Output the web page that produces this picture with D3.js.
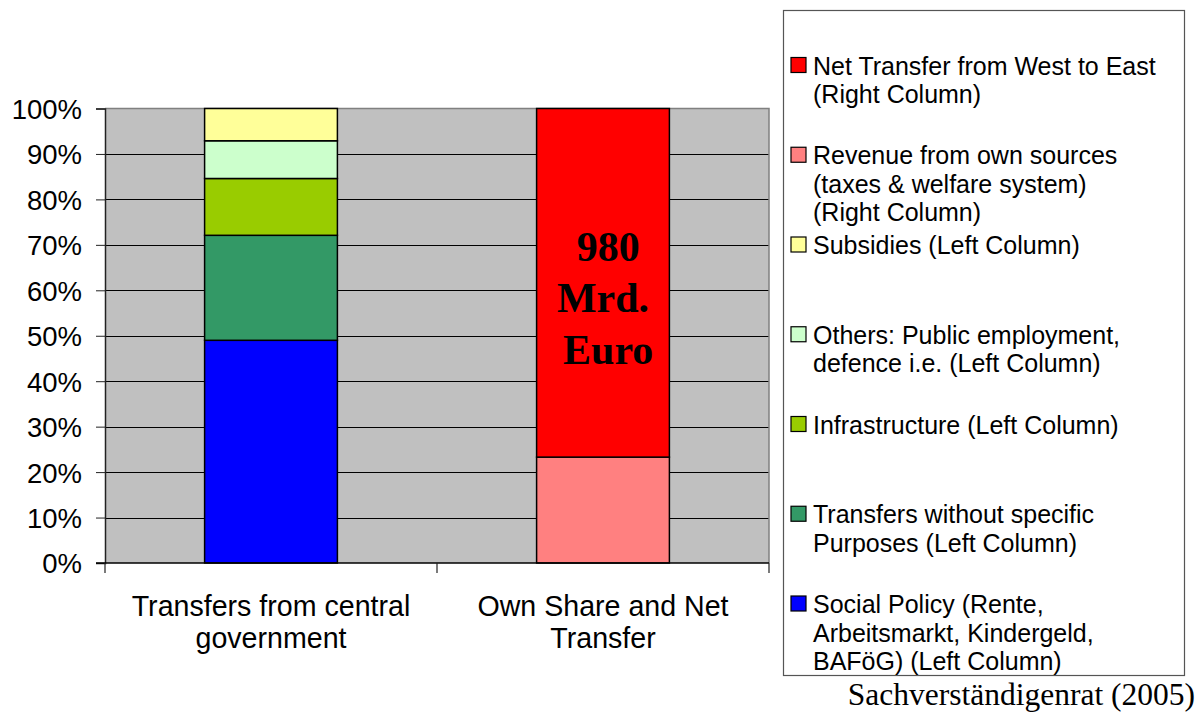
<!DOCTYPE html>
<html>
<head>
<meta charset="utf-8">
<script src="https://cdn.jsdelivr.net/npm/d3@7"></script>
<style>
  html, body { margin: 0; padding: 0; background: #fff; }
  svg { display: block; }
</style>
</head>
<body>
<svg id="chart" width="1204" height="713"></svg>
<script>
// Column categories (two-line tick labels)
const categories = ["central", "own"];
const categoryLabels = [
  ["Transfers from central", "government"],
  ["Own Share and Net", "Transfer"]
];

// Left column: transfers from central government, share in %
const leftKeys = ["social", "noPurpose", "infra", "others", "subsidies"];
const leftValues = [49.0, 23.1, 12.5, 8.3, 7.1];
const leftColors = ["#0000FF", "#339966", "#99CC00", "#CCFFCC", "#FFFF99"];

// Right column: own revenue and net transfer, share in %
const rightKeys = ["revenue", "netTransfer"];
const rightValues = [23.3, 76.7];
const rightColors = ["#FF8080", "#FF0000"];

// Annotation inside the net-transfer segment
const netLabel = [" 980", "Mrd.", " Euro"];

// Y axis ticks
const yTicks = [0, 10, 20, 30, 40, 50, 60, 70, 80, 90, 100];

// Legend entries, top to bottom
const legendColors = ["#FF0000", "#FF8080", "#FFFF99", "#CCFFCC", "#99CC00", "#339966", "#0000FF"];
const legendLabels = [
  ["Net Transfer from West to East", "(Right Column)"],
  ["Revenue from own sources", "(taxes & welfare system)", "(Right Column)"],
  ["Subsidies (Left Column)"],
  ["Others: Public employment,", "defence i.e. (Left Column)"],
  ["Infrastructure (Left Column)"],
  ["Transfers without specific", "Purposes (Left Column)"],
  ["Social Policy (Rente,", "Arbeitsmarkt, Kindergeld,", "BAFöG) (Left Column)"]
];

const sourceNote = "Sachverständigenrat (2005)";

const SANS = "'Liberation Sans', Arial, sans-serif";
const SERIF = "'Liberation Serif', 'Times New Roman', serif";

const svg = d3.select("#chart");

const plot = { left: 105, right: 769, top: 108.5, bottom: 563 };

const x = d3.scaleBand()
  .domain(categories)
  .range([plot.left, plot.right])
  .paddingInner(0.6)
  .paddingOuter(0.3);

const y = d3.scaleLinear()
  .domain([0, 100])
  .range([plot.bottom, plot.top]);

// Plot background
svg.append("rect")
  .attr("x", plot.left).attr("y", plot.top)
  .attr("width", plot.right - plot.left)
  .attr("height", plot.bottom - plot.top)
  .attr("fill", "#C0C0C0");

// Horizontal gridlines
svg.append("g")
  .selectAll("line")
  .data(yTicks.filter(t => t > 0 && t < 100))
  .join("line")
  .attr("x1", plot.left).attr("x2", plot.right)
  .attr("y1", d => Math.round(y(d)) + 0.5)
  .attr("y2", d => Math.round(y(d)) + 0.5)
  .attr("stroke", "#000")
  .attr("stroke-width", 1);

// Plot border (top and right)
svg.append("path")
  .attr("d", `M${plot.left},${plot.top}H${plot.right}V${plot.bottom}`)
  .attr("fill", "none")
  .attr("stroke", "#808080")
  .attr("stroke-width", 1.5);

// Stacked segments
function stackColumn(cat, values, colors) {
  let acc = 0;
  return values.map((v, i) => {
    const seg = { cat, y0: acc, y1: acc + v, color: colors[i] };
    acc += v;
    return seg;
  });
}
const segments = stackColumn(categories[0], leftValues, leftColors)
  .concat(stackColumn(categories[1], rightValues, rightColors));

svg.append("g")
  .selectAll("rect")
  .data(segments)
  .join("rect")
  .attr("x", d => x(d.cat))
  .attr("width", x.bandwidth())
  .attr("y", d => y(d.y1))
  .attr("height", d => y(d.y0) - y(d.y1))
  .attr("fill", d => d.color)
  .attr("stroke", "#000")
  .attr("stroke-width", 1.5);

// Y axis
const yAxis = d3.axisLeft(y)
  .tickValues(yTicks)
  .tickFormat(d => d + "%")
  .tickSize(9)
  .tickPadding(14);

const gy = svg.append("g")
  .attr("transform", `translate(${plot.left},0)`)
  .call(yAxis);
gy.select(".domain").attr("stroke", "#222").attr("stroke-width", 1.5);
gy.selectAll(".tick line").attr("stroke", "#222");
gy.selectAll(".tick text")
  .attr("font-family", SANS)
  .attr("font-size", 27.5)
  .attr("fill", "#000")
  .attr("dy", "0.36em");

// X axis line and category dividers
svg.append("line")
  .attr("x1", plot.left - 9).attr("x2", plot.right)
  .attr("y1", plot.bottom).attr("y2", plot.bottom)
  .attr("stroke", "#000").attr("stroke-width", 1.5);

const dividers = [plot.left, plot.left + (plot.right - plot.left) / 2, plot.right];
svg.append("g")
  .selectAll("line")
  .data(dividers)
  .join("line")
  .attr("x1", d => d).attr("x2", d => d)
  .attr("y1", plot.bottom).attr("y2", plot.bottom + 10)
  .attr("stroke", "#222").attr("stroke-width", 1.2);

// Category labels
const catG = svg.append("g")
  .selectAll("text")
  .data(categories)
  .join("text")
  .attr("x", d => x(d) + x.bandwidth() / 2)
  .attr("y", 616)
  .attr("text-anchor", "middle")
  .attr("font-family", SANS)
  .attr("font-size", 28.6)
  .attr("fill", "#000");
catG.each(function(d, i) {
  d3.select(this).selectAll("tspan")
    .data(categoryLabels[i])
    .join("tspan")
    .attr("x", x(d) + x.bandwidth() / 2)
    .attr("dy", (t, j) => j === 0 ? 0 : 31.5)
    .text(t => t);
});

// Label inside the net-transfer segment
svg.append("text")
  .attr("text-anchor", "middle")
  .attr("font-family", SERIF)
  .attr("font-weight", "bold")
  .attr("font-size", 42)
  .attr("fill", "#000")
  .style("white-space", "pre")
  .selectAll("tspan")
  .data(netLabel)
  .join("tspan")
  .attr("x", x(categories[1]) + x.bandwidth() / 2)
  .attr("y", (d, i) => 261 + i * 51.3)
  .text(d => d);

// Legend
const legend = { left: 783, top: 10, right: 1184, bottom: 675 };
svg.append("rect")
  .attr("x", legend.left + 0.5).attr("y", legend.top + 0.5)
  .attr("width", legend.right - legend.left)
  .attr("height", legend.bottom - legend.top)
  .attr("fill", "#fff")
  .attr("stroke", "#555")
  .attr("stroke-width", 1.2);

const legendY = d3.scaleLinear().domain([0, 6]).range([74.5, 613]);

const items = svg.append("g")
  .selectAll("g")
  .data(legendLabels)
  .join("g")
  .attr("transform", (d, i) => `translate(0,${legendY(i)})`);

items.append("rect")
  .attr("x", 791).attr("y", -17)
  .attr("width", 15).attr("height", 15)
  .attr("fill", (d, i) => legendColors[i])
  .attr("stroke", "#000")
  .attr("stroke-width", 1.2);

items.append("text")
  .attr("font-family", SANS)
  .attr("font-size", 25)
  .attr("fill", "#000")
  .selectAll("tspan")
  .data(d => d)
  .join("tspan")
  .attr("x", 813)
  .attr("y", (t, j) => j * 28.5)
  .text(t => t);

// Source note
svg.append("text")
  .attr("x", 1195).attr("y", 705)
  .attr("text-anchor", "end")
  .attr("font-family", SERIF)
  .attr("font-size", 31.5)
  .attr("fill", "#000")
  .text(sourceNote);
</script>
</body>
</html>
